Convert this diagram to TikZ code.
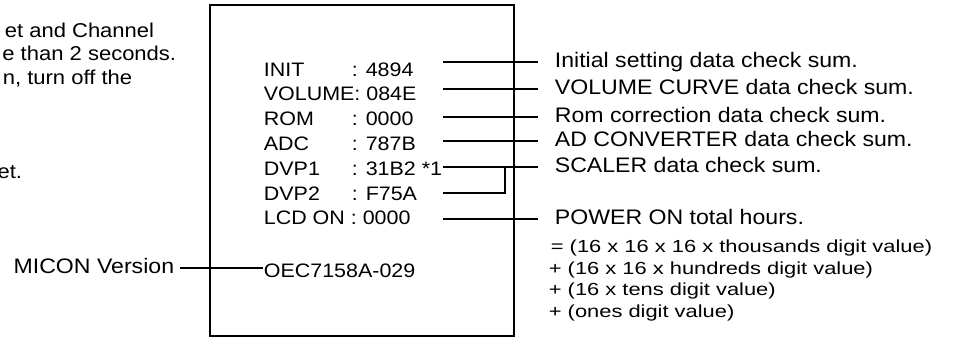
\documentclass[tikz,border=0pt]{standalone}
\usepackage{fontspec}
\setmainfont{Liberation Sans}[FakeStretch=1.1]
\newfontfamily\formulafont{Liberation Sans}[FakeStretch=1.25]
\usetikzlibrary{math}

\newcommand{\field}[1]{\makebox[88pt][l]{#1}}

\begin{document}
\begin{tikzpicture}[x=1pt, y=-1pt, line width=1.8pt,
	font=\fontsize{20pt}{24pt}\selectfont,
	entry/.style={anchor=base west, inner sep=0pt, font=\fontsize{19.5pt}{24pt}\selectfont},
	note/.style={anchor=west, inner xsep=16pt, inner ysep=0pt, text height=15pt, text depth=4pt, font=\fontsize{21pt}{25pt}\selectfont},
	formula/.style={anchor=base west, inner sep=0pt, font=\formulafont\fontsize{17.5pt}{21pt}\selectfont}]
	% Constants
	\tikzmath{\rowtop = 76; \rowstep = 24.8; \entryx = 263; \lineleft = 443; \lineright = 538;}

	\useasboundingbox (0,0) rectangle (953,338);

	% Instructions (cut off at the left)
	\node[anchor=base east, inner sep=0pt] (stepa) at (155,37) {et and Channel};
	\node[anchor=base east, inner sep=0pt] (stepb) at (177,60.5) {e than 2 seconds.};
	\node[anchor=base east, inner sep=0pt] (stepc) at (133,84) {n, turn off the};
	\node[anchor=base east, inner sep=0pt] (stepd) at (23,178) {et.};

	% Screen
	\draw (210,5) rectangle (514,336);
	\node[entry] (init) at (\entryx, \rowtop) {\field{INIT}: 4894};
	\node[entry] (volume) at (\entryx, \rowtop+\rowstep) {VOLUME: 084E};
	\node[entry] (rom) at (\entryx, \rowtop+2*\rowstep) {\field{ROM}: 0000};
	\node[entry] (adc) at (\entryx, \rowtop+3*\rowstep) {\field{ADC}: 787B};
	\node[entry] (dvpa) at (\entryx, \rowtop+4*\rowstep) {\field{DVP1}: 31B2 *1};
	\node[entry] (dvpb) at (\entryx, \rowtop+5*\rowstep) {\field{DVP2}: F75A};
	\node[entry] (lcd) at (\entryx, \rowtop+6*\rowstep) {LCD ON : 0000};
	\node[entry] (ver) at (\entryx, 277) {OEC7158A-029};

	% Labels
	\coordinate (initL) at (\lineleft, 62);
	\coordinate (volumeL) at (\lineleft, 89);
	\coordinate (romL) at (\lineleft, 117);
	\coordinate (adcL) at (\lineleft, 141);
	\coordinate (dvpaL) at (\lineleft, 167);
	\coordinate (dvpbL) at (\lineleft, 193);
	\coordinate (lcdL) at (\lineleft, 219);
	\coordinate (join) at (505, 167);

	\node[note] (initN) at (\lineright, 62) {Initial setting data check sum.};
	\node[note] (volumeN) at (\lineright, 89) {VOLUME CURVE data check sum.};
	\node[note] (romN) at (\lineright, 117) {Rom correction data check sum.};
	\node[note] (adcN) at (\lineright, 141) {AD CONVERTER data check sum.};
	\node[note] (dvpN) at (\lineright, 167) {SCALER data check sum.};
	\node[note] (lcdN) at (\lineright, 219) {POWER ON total hours.};

	\draw (initL) -- (initN);
	\draw (volumeL) -- (volumeN);
	\draw (romL) -- (romN);
	\draw (adcL) -- (adcN);
	\draw (dvpaL) -- (dvpN);
	\draw (dvpbL) -- (dvpbL -| join) -- (join);
	\draw (lcdL) -- (lcdN);

	\node[formula] (suma) at (550,252) {= (16 x 16 x 16 x thousands digit value)};
	\node[formula] (sumb) at (548,274) {+ (16 x 16 x hundreds digit value)};
	\node[formula] (sumc) at (548,295.5) {+ (16 x tens digit value)};
	\node[formula] (sumd) at (548,317) {+ (ones digit value)};

	\node[anchor=east, inner xsep=5pt, inner ysep=0pt, text height=15pt, text depth=4pt, font=\fontsize{21pt}{25pt}\selectfont] (micon) at (180,268) {MICON Version};
	\draw (micon.east) -- (micon.east -| ver.west);
\end{tikzpicture}
\end{document}
